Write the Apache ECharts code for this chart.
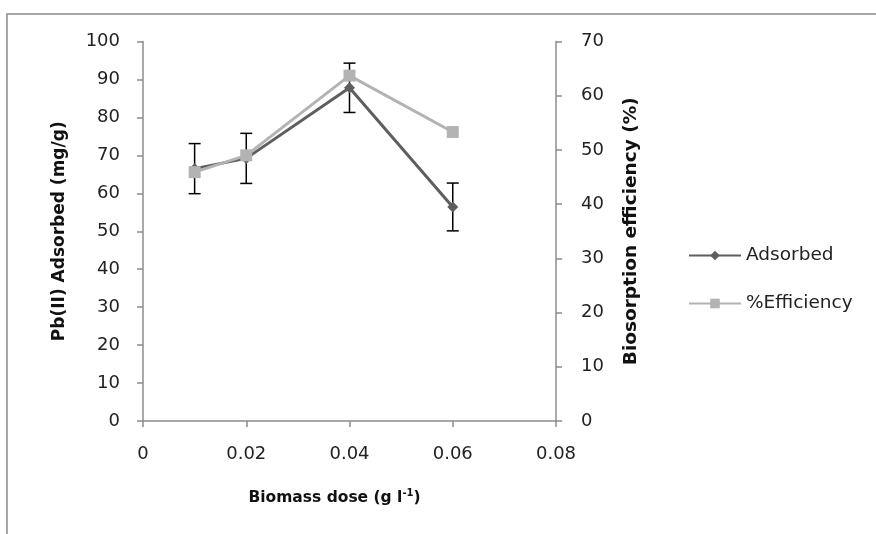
<!DOCTYPE html>
<html>
<head>
<meta charset="utf-8">
<script src="https://cdn.jsdelivr.net/npm/echarts@6/dist/echarts.min.js"></script>
<style>
  html, body { margin: 0; padding: 0; background: #fff; }
  #chart { width: 876px; height: 534px; }
</style>
</head>
<body>
<div id="chart"></div>
<script>
// data
const doses = [0.01, 0.02, 0.04, 0.06];
const adsorbed = [66.5, 69.2, 87.8, 56.4];
const adsorbedErr = [6.6, 6.6, 6.5, 6.3];
const efficiency = [45.9, 49.0, 63.7, 53.3];
const xTicks = [0, 0.02, 0.04, 0.06, 0.08];

const font = 'DejaVu Sans';
const axisColor = '#8c8c8c';

let chart = echarts.init(document.getElementById('chart'));

let adsData = [];
let effData = [];
let errData = [];
for (let i = 0; i < doses.length; i++) {
  adsData.push([doses[i], adsorbed[i]]);
  effData.push([doses[i], efficiency[i]]);
  errData.push([doses[i], adsorbed[i] - adsorbedErr[i], adsorbed[i] + adsorbedErr[i]]);
}

function renderErr(params, api) {
  let x = api.value(0);
  let lo = api.coord([x, api.value(1)]);
  let hi = api.coord([x, api.value(2)]);
  let w = 6;
  let style = { stroke: '#000', lineWidth: 1.5 };
  return {
    type: 'group',
    children: [
      { type: 'line', shape: { x1: lo[0], y1: lo[1], x2: hi[0], y2: hi[1] }, style: style },
      { type: 'line', shape: { x1: lo[0] - w, y1: lo[1], x2: lo[0] + w, y2: lo[1] }, style: style },
      { type: 'line', shape: { x1: hi[0] - w, y1: hi[1], x2: hi[0] + w, y2: hi[1] }, style: style }
    ]
  };
}

const axisCommon = {
  axisLine: { show: true, lineStyle: { color: axisColor, width: 1.5 } },
  axisTick: { show: true, length: 6, lineStyle: { color: axisColor, width: 1.5 } },
  splitLine: { show: false },
  axisLabel: { color: '#222', fontFamily: font, fontSize: 18 }
};

chart.setOption({
  animation: false,
  backgroundColor: '#fff',
  graphic: [{
    type: 'rect',
    shape: { x: 7, y: 14, width: 900, height: 560 },
    style: { fill: 'none', stroke: '#8a8a8a', lineWidth: 1.5 },
    silent: true
  }],
  grid: { left: 143, right: 320, top: 41.5, bottom: 113 },
  legend: {
    data: ['Adsorbed', '%Efficiency'],
    orient: 'vertical',
    left: 683,
    top: 241,
    itemWidth: 52,
    itemHeight: 12,
    itemGap: 29,
    textStyle: { fontFamily: font, fontSize: 18.5, color: '#222' }
  },
  xAxis: Object.assign({}, axisCommon, {
    type: 'value',
    min: 0,
    max: 0.08,
    interval: 0.02,
    axisLabel: {
      color: '#222', fontFamily: font, fontSize: 18, margin: 24,
      formatter: function (v) { return xTicks.indexOf(v) >= 0 ? String(v) : ''; }
    },
    name: '{a|Biomass dose (g l}{s|-1}{a|)}',
    nameLocation: 'middle',
    nameGap: 67,
    nameTextStyle: {
      padding: [0, 30, 0, 0],
      rich: {
        a: { fontFamily: font, fontSize: 15.5, fontWeight: 'bold', color: '#111', lineHeight: 20 },
        s: { fontFamily: font, fontSize: 10, fontWeight: 'bold', color: '#111', lineHeight: 12, verticalAlign: 'top' }
      }
    }
  }),
  yAxis: [
    Object.assign({}, axisCommon, {
      type: 'value',
      min: 0, max: 100, interval: 10,
      axisLabel: { color: '#222', fontFamily: font, fontSize: 18, margin: 23 },
      name: 'Pb(II) Adsorbed (mg/g)',
      nameLocation: 'middle',
      nameRotate: 90,
      nameGap: 75,
      nameTextStyle: { fontFamily: font, fontSize: 17, fontWeight: 'bold', color: '#111' }
    }),
    Object.assign({}, axisCommon, {
      type: 'value',
      position: 'right',
      min: 0, max: 70, interval: 10,
      axisLabel: { color: '#222', fontFamily: font, fontSize: 18, margin: 25 },
      name: 'Biosorption efficiency (%)',
      nameLocation: 'middle',
      nameRotate: 90,
      nameGap: 66,
      nameTextStyle: { fontFamily: font, fontSize: 18.5, fontWeight: 'bold', color: '#111' }
    })
  ],
  series: [
    {
      name: 'Adsorbed',
      type: 'line',
      yAxisIndex: 0,
      data: adsData,
      symbol: 'diamond',
      symbolSize: 11,
      lineStyle: { color: '#5e5e5e', width: 3 },
      itemStyle: { color: '#5e5e5e' },
      z: 3
    },
    {
      name: 'err',
      type: 'custom',
      yAxisIndex: 0,
      renderItem: renderErr,
      data: errData,
      z: 2
    },
    {
      name: '%Efficiency',
      type: 'line',
      yAxisIndex: 1,
      data: effData,
      symbol: 'rect',
      symbolSize: 12,
      lineStyle: { color: '#b3b3b3', width: 3 },
      itemStyle: { color: '#b3b3b3' },
      z: 4
    }
  ]
});
</script>
</body>
</html>
